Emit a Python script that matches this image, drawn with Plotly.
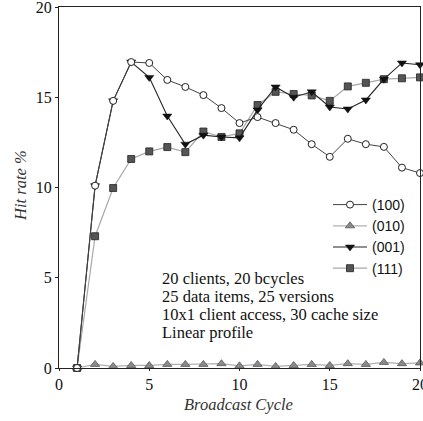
import plotly.graph_objects as go

# Broadcast cycles 1..20
cycles = list(range(1, 21))

# Hit rate (%) for each client configuration
hit_100 = [0.0, 10.1, 14.8, 16.95, 16.9, 15.96, 15.57, 15.12, 14.4, 13.57,
           13.9, 13.57, 13.2, 12.4, 11.7, 12.7, 12.4, 12.25, 11.1, 10.8]
hit_010 = [0.0, 0.2, 0.09, 0.14, 0.14, 0.2, 0.2, 0.2, 0.24, 0.12,
           0.2, 0.09, 0.14, 0.2, 0.14, 0.24, 0.2, 0.31, 0.24, 0.28]
hit_001 = [0.0, 10.1, 14.8, 16.95, 16.1, 13.96, 12.4, 12.9, 12.8, 12.75,
           14.3, 15.57, 15.0, 15.3, 14.46, 14.35, 14.85, 16.0, 16.9, 16.8]
hit_111 = [0.0, 7.3, 9.97, 11.58, 12.0, 12.24, 11.96, 13.1, 12.8, 13.0,
           14.57, 15.3, 15.18, 15.1, 14.8, 15.6, 15.8, 16.0, 16.05, 16.1]

series_names = ["(100)", "(010)", "(001)", "(111)"]

notes = [
    "20 clients, 20 bcycles",
    "25 data items, 25 versions",
    "10x1 client access, 30 cache size",
    "Linear profile",
]

x_ticks = [0, 5, 10, 15, 20]
y_ticks = [0, 5, 10, 15, 20]

SERIF = "'Liberation Serif', 'DejaVu Serif', serif"
SANS = "'Liberation Sans', Arial, sans-serif"

fig = go.Figure()

fig.add_trace(go.Scatter(
    x=cycles, y=hit_010, name=series_names[1], mode="lines+markers",
    legendrank=2, cliponaxis=False,
    line=dict(color="#b0b0b0", width=1.2),
    marker=dict(symbol="triangle-up", size=8, color="#8a8a8a",
                line=dict(color="#555555", width=0.8)),
))
fig.add_trace(go.Scatter(
    x=cycles, y=hit_111, name=series_names[3], mode="lines+markers",
    legendrank=4, cliponaxis=False,
    line=dict(color="#a8a8a8", width=1.2),
    marker=dict(symbol="square", size=7, color="#555555",
                line=dict(color="#222222", width=0.8)),
))
fig.add_trace(go.Scatter(
    x=cycles, y=hit_001, name=series_names[2], mode="lines+markers",
    legendrank=3, cliponaxis=False,
    line=dict(color="#222222", width=1.1),
    marker=dict(symbol="triangle-down", size=8, color="#111111",
                line=dict(color="#111111", width=0.5)),
))
fig.add_trace(go.Scatter(
    x=cycles, y=hit_100, name=series_names[0], mode="lines+markers",
    legendrank=1, cliponaxis=False,
    line=dict(color="#444444", width=1.0),
    marker=dict(symbol="circle", size=7, color="white",
                line=dict(color="#222222", width=1)),
))

W, H = 423, 421
L, R, T, B = 59, 3, 7, 53
PW, PH = W - L - R, H - T - B


def px_to_paper(px, py):
    return (px - L) / PW, 1 - (py - T) / PH


for i, line in enumerate(notes):
    nx, ny = px_to_paper(160, 278 + i * 18.3)
    fig.add_annotation(
        x=nx, y=ny, xref="paper", yref="paper",
        text=line, showarrow=False, xanchor="left", yanchor="middle",
        font=dict(family=SERIF, size=16.5, color="#111111"),
    )

bx, by = px_to_paper(238, 404)
fig.add_annotation(
    text="<i>Broadcast Cycle</i>", x=bx, y=by, xref="paper", yref="paper",
    showarrow=False, xanchor="center", yanchor="middle",
    font=dict(family=SERIF, size=16.5, color="#333333"),
)
hx, hy = px_to_paper(21, 186)
fig.add_annotation(
    text="<i>Hit rate %</i>", x=hx, y=hy, xref="paper", yref="paper",
    showarrow=False, textangle=-90, xanchor="center", yanchor="middle",
    font=dict(family=SERIF, size=16.5, color="#333333"),
)

lx, ly = px_to_paper(328, 189)
fig.update_layout(
    width=W, height=H,
    margin=dict(l=L, r=R, t=T, b=B, pad=0, autoexpand=False),
    paper_bgcolor="white", plot_bgcolor="white",
    showlegend=True,
    legend=dict(
        x=lx, y=ly, xanchor="left", yanchor="top",
        bgcolor="rgba(0,0,0,0)", borderwidth=0,
        font=dict(family=SANS, size=14, color="#111111"),
        tracegroupgap=0, itemwidth=34,
    ),
    xaxis=dict(
        range=[0, 20], tickvals=x_ticks, ticktext=[str(v) for v in x_ticks],
        showgrid=False, zeroline=False, showline=True, mirror=True,
        linecolor="#222222", linewidth=1, ticks="outside", ticklen=2,
        tickcolor="#222222", ticklabeloverflow="allow", automargin=False,
        tickfont=dict(family=SERIF, size=16, color="#111111"),
    ),
    yaxis=dict(
        range=[0, 20], tickvals=y_ticks, ticktext=[str(v) for v in y_ticks],
        showgrid=False, zeroline=False, showline=True, mirror=True,
        linecolor="#222222", linewidth=1, ticks="outside", ticklen=3,
        tickcolor="#222222", ticklabeloverflow="allow", automargin=False,
        tickfont=dict(family=SERIF, size=16, color="#111111"),
    ),
)

fig.write_html("out.html")
